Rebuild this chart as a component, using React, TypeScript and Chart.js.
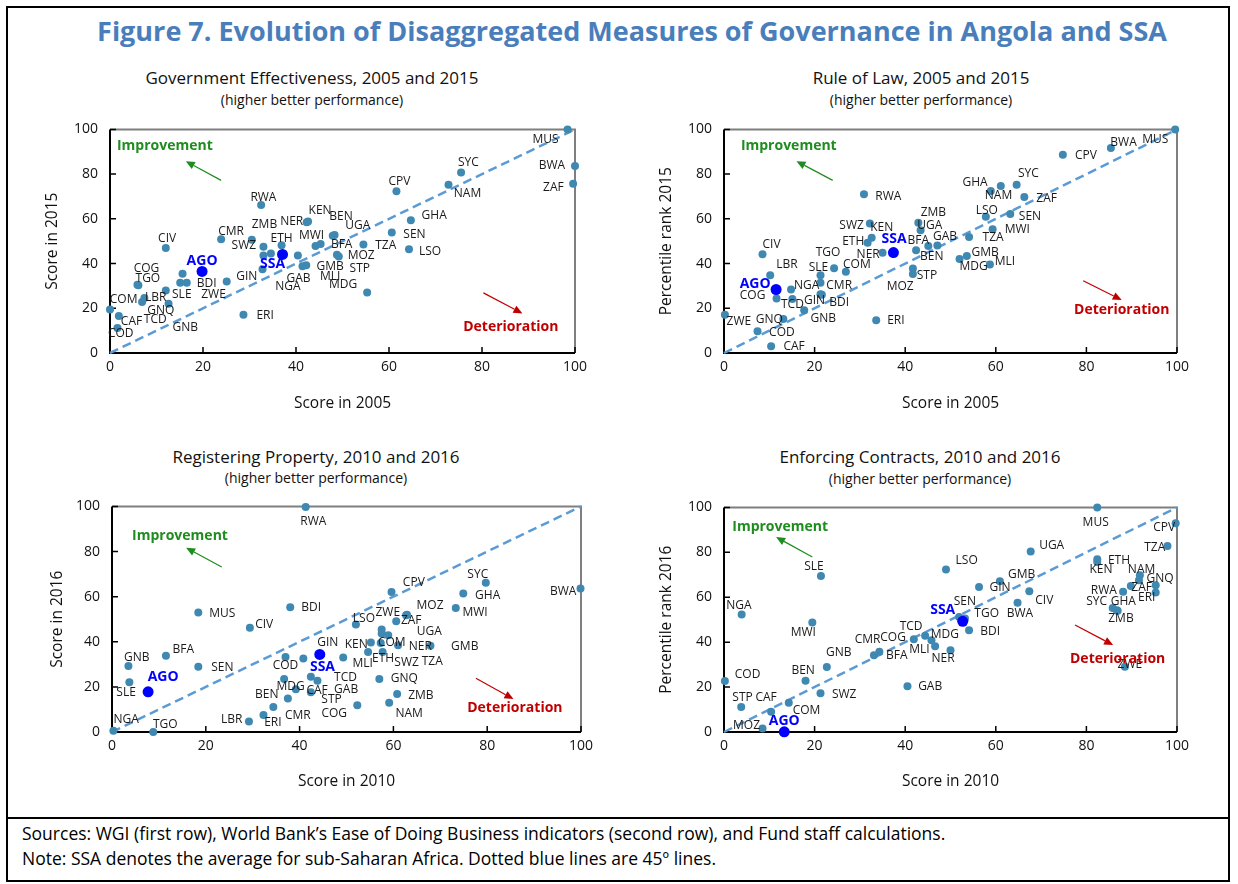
import React, { useEffect, useRef } from 'react';
import { Chart, registerables } from 'chart.js';

Chart.register(...registerables);

const FONT = '"Open Sans", "Noto Sans", Arial, sans-serif';
const DOT = '#3f88b2';
const HILITE = '#0000ff';
const LINE45 = '#5b9bd5';
const GREEN = '#1e8c1e';
const RED = '#c00000';

// ---------------- Government Effectiveness (2005 vs 2015) ----------------
const geCodes = ['COM','CAF','COD','COG','TGO','LBR','GNQ','TCD','GNB','SLE','BDI','ZWE','CIV','CMR','AGO','GIN','ERI','SWZ','RWA','ZMB','ETH','SSA','NGA','GAB','GMB','MLI','NER','KEN','MWI','BFA','BEN','UGA','MOZ','STP','TZA','MDG','SEN','LSO','GHA','CPV','NAM','SYC','MUS','BWA','ZAF','',''];
const geScore2005 = [0,1.9,1.6,5.9,6.1,7.4,6.9,12.6,15.6,12.0,16.5,15.1,12.0,23.9,19.8,25.1,28.7,30.5,32.5,33.0,36.9,37.1,32.8,41.4,42.2,40.4,42.3,42.6,44.2,45.3,47.9,48.3,48.8,49.2,54.5,55.3,60.6,64.3,64.7,61.6,72.8,75.5,98.4,100,99.6,33.0,34.6];
const geScore2015 = [19.5,16.5,11.2,30.5,30.3,24.6,22.8,22.0,35.4,28.0,31.4,31.4,47.0,50.9,36.5,32.0,17.1,50.6,66.2,47.5,48.2,44.1,37.4,38.8,39.3,43.6,58.5,58.8,47.9,48.7,52.4,52.8,43.9,43.2,48.5,27.1,53.9,46.4,59.4,72.3,75.3,80.7,100,83.6,75.7,43.6,44.5];
const geLabelOffsets = [[13.6,-10],[12.7,5.3],[3.3,5.7],[9,-16.7],[9.5,-6.7],[11.4,0],[18.7,8.3],[-13.3,15.6],[2.7,54],[16,4],[20,1],[33.3,11.6],[1.3,-9.4],[10,-7.3],[0,-10],[20,-4.6],[21.7,1.3],[-8,5.3],[2.3,-7],[1,-22.7],[0,-7],[-10,9.7],[25.4,17.4],[-4,12.7],[24,1],[32.3,20.7],[-15,-0.3],[12,-11],[-4,-10],[21,0],[8.3,-19.7],[23.3,-9],[24.3,0.3],[21,12.5],[22.3,0.7],[-24,-8],[22.7,1.7],[21,2],[23.3,-5],[3,-9.3],[19,9],[7.3,-9.7],[-22,10],[-23,0],[-19.7,4.3],[0,0],[0,0]];

// ---------------- Rule of Law (2005 vs 2015) ----------------
const rlCodes = ['ZWE','GNQ','COD','CAF','GNB','ERI','AGO','COG','CIV','LBR','NGA','TCD','SLE','CMR','GIN','BDI','TGO','COM','ETH','KEN','SWZ','NER','SSA','RWA','MOZ','STP','BEN','BFA','GAB','ZMB','UGA','MUS','BWA','CPV','SYC','GHA','NAM','ZAF','LSO','SEN','MWI','TZA','GMB','MDG','MLI'];
const rlRank2005 = [0.2,13.1,7.4,10.4,17.7,33.6,11.5,11.6,8.5,10.2,14.8,15.1,21.3,21.3,21.3,21.6,24.3,26.9,31.7,32.6,32.2,35.0,37.4,30.9,41.7,41.7,42.4,45.1,47.1,42.9,43.4,99.6,85.4,74.8,64.6,61.1,58.9,66.3,57.8,63.2,59.3,54.1,53.6,52.0,58.7];
const rlRank2015 = [17.1,15.2,9.7,3.0,19.1,14.6,28.4,24.4,44.2,34.8,28.4,24.1,34.8,31.4,26.3,26.0,37.9,36.3,49.3,51.5,57.9,44.8,44.9,71.0,35.3,37.8,46.0,47.8,48.1,58.3,54.9,100,91.7,88.7,75.3,74.7,72.5,69.8,60.9,62.2,55.4,51.9,43.4,42.0,39.6];
const rlLabelOffsets = [[14,7],[-14,1],[24.4,1],[23,0.4],[19,8.7],[19.7,0.4],[-21,-5.3],[-24,-2.6],[9,-10],[16.7,-11],[15.7,-3.6],[0,5],[-2,-7.7],[18.7,3],[-6,6],[17.4,7.5],[-6,-15.3],[11,-7.7],[-14.4,-0.7],[10,-10.4],[-18.3,1.7],[-14.4,1.6],[0.7,-14],[24.3,2],[-12.7,12.7],[14,7.4],[15.7,6],[-10,-5.3],[7.7,-8.6],[15,-10],[9.3,-5],[-20,10],[12.7,-5],[23,1.3],[11.7,-11],[-25.7,-3],[7.7,4.3],[22.3,1.7],[1,-6],[19.7,3],[24.7,0.3],[24,1],[18.3,-3.4],[14,7.7],[15,-2.6]];

// ---------------- Registering Property (2010 vs 2016) ----------------
const rpCodes = ['RWA','MUS','BDI','CIV','GNB','BFA','SEN','SLE','AGO','NGA','TGO','LBR','ERI','BEN','CMR','MDG','CAF','TCD','GAB','STP','COD','GIN','SSA','MLI','KEN','ETH','SWZ','COM','NER','GMB','UGA','TZA','','LSO','ZWE','MOZ','ZAF','CPV','SYC','GHA','MWI','BWA','GNQ','ZMB','NAM','COG'];
const rpScore2010 = [41.3,18.4,38.0,29.4,3.5,11.5,18.4,3.7,7.7,0.3,8.8,29.2,32.3,34.4,37.5,36.7,39.2,42.4,43.8,42.4,37.0,40.8,44.3,49.3,55.2,54.6,57.7,57.3,61.0,67.9,58.9,57.5,57.5,52.0,62.7,62.9,60.6,59.6,79.7,74.9,73.3,99.9,57.0,60.8,59.1,52.3];
const rpScore2016 = [99.7,53.0,55.3,46.2,29.2,33.8,28.9,22.0,17.8,0.6,0,4.6,7.5,11.1,14.9,23.5,18.9,24.5,22.7,17.6,33.2,32.6,34.4,33.0,39.7,35.5,35.5,39.5,38.5,38.2,42.9,43.7,45.4,47.7,51.8,52.0,49.1,62.1,66.2,61.4,55.0,63.6,23.5,16.8,13.0,11.9];
const rpLabelOffsets = [[7.6,15],[24,1.4],[21,0.7],[14.3,-2.7],[8.4,-8.3],[17.3,-5.7],[24,1],[-3.3,10],[15,-14.4],[12.7,-11.4],[12,-7.7],[-17.3,-2.4],[9.4,7.7],[-6.6,-12],[10,17.4],[6.4,7.7],[21.3,1.4],[34.7,0.6],[28.7,8.3],[20.7,7.7],[0,8.7],[24.4,-15.6],[2.7,12.4],[19.4,6],[-14.7,1.7],[15,6.6],[24,11],[11,0],[22.3,1],[34.3,1],[41,-3.3],[50.6,28.4],[0,0],[8,-6],[-18.3,-2.3],[23,-9.3],[15,-1],[22.3,-9],[-8,-8.3],[24.4,1.7],[19.3,5],[-17.4,2.7],[25,0],[23.7,1],[20,10.6],[-23,8.3]];

// ---------------- Enforcing Contracts (2010 vs 2016) ----------------
const ecCodes = ['SLE','NGA','MWI','COD','BEN','GNB','SWZ','STP','CAF','COM','MOZ','AGO','GAB','CMR','BFA','COG','TCD','MDG','MLI','NER','SSA','SEN','TGO','BDI','LSO','GIN','GMB','CIV','BWA','UGA','MUS','ETH','KEN','NAM','ZAF','','GNQ','ERI','RWA','SYC','GHA','ZMB','ZWE','CPV','TZA'];
const ecRank2010 = [21.4,3.9,19.5,0.2,18.0,22.7,21.3,3.8,10.4,14.3,8.5,13.3,40.5,33.1,34.3,41.9,44.4,45.8,46.6,50.0,52.7,51.9,53.2,54.1,49.0,56.3,60.9,67.4,64.8,67.7,82.4,82.4,82.4,91.8,91.6,89.8,95.3,95.3,88.1,85.8,86.7,86.9,88.5,99.7,97.9];
const ecRank2016 = [69.5,52.3,48.8,22.7,22.8,28.9,17.3,11.1,9.0,13.0,1.6,0.1,20.4,34.2,35.7,41.3,42.8,40.8,38.2,36.4,49.3,51.2,50.5,45.3,72.4,64.6,67.1,62.7,57.6,80.4,99.9,76.9,75.7,69.8,67.6,65.0,65.3,62.1,62.4,55.2,54.2,54.0,29.0,92.9,82.8];
const ecLabelOffsets = [[-7,-9],[-2.7,-8.6],[-9,10],[22.7,-6],[-2.4,-10],[12,-14.7],[23.7,1],[1.3,-9.3],[-5,-14],[17.7,7.3],[-16,-3.3],[0,-10.7],[22.7,0.7],[-6.3,-16],[17.4,4],[-20.7,-1.3],[-14,-9.7],[13.3,-5.3],[-15.7,3],[-7.4,8.3],[-20,-11],[5.7,-15],[21.7,-5],[21,1],[20.7,-9],[21,0.6],[21.7,-7],[15,9],[2.3,11],[21,-6],[-1.6,15],[21.7,1],[3.7,7.3],[1.7,-6],[2.7,7.3],[0,0],[4.3,-6.7],[-9,5.4],[-19.3,-1],[-16,-6.7],[6.6,-9],[3.3,7.7],[5,-2.4],[-11.4,4.7],[-12.7,1.6]];

const axisTicks = [0, 20, 40, 60, 80, 100];

type Note = { text: string; color: string; at: [number, number]; from: [number, number]; to: [number, number] };

const notes = (imp: number[], det: number[]): Note[] => [
  { text: 'Improvement', color: GREEN, at: [imp[0], imp[1]], from: [imp[2], imp[3]], to: [imp[4], imp[5]] },
  { text: 'Deterioration', color: RED, at: [det[0], det[1]], from: [det[2], det[3]], to: [det[4], det[5]] },
];

const PANELS = [
  {
    title: 'Government Effectiveness, 2005 and 2015', tx: 312, ty: 77, sy: 100,
    area: { l: 110, t: 129, r: 575, b: 353 }, xTitle: 'Score in 2005', yTitle: 'Score in 2015', xPad: 12, yPad: 13,
    codes: geCodes, xs: geScore2005, ys: geScore2015, offsets: geLabelOffsets,
    notes: notes([11.8, 92.4, 23.9, 77.2, 16.3, 85.8], [86.2, 11.5, 80.3, 26.9, 88.7, 17.7]),
  },
  {
    title: 'Rule of Law, 2005 and 2015', tx: 921, ty: 77, sy: 100,
    area: { l: 724, t: 129, r: 1177, b: 353 }, xTitle: 'Score in 2005', yTitle: 'Percentile rank 2015', xPad: 12, yPad: 13,
    codes: rlCodes, xs: rlRank2005, ys: rlRank2015, offsets: rlLabelOffsets,
    notes: notes([14.3, 92.4, 24.0, 77.2, 16.0, 85.8], [87.8, 19.2, 79.3, 32.3, 87.8, 23.7]),
  },
  {
    title: 'Registering Property, 2010 and 2016', tx: 316, ty: 456, sy: 478,
    area: { l: 112, t: 506, r: 581, b: 732 }, xTitle: 'Score in 2010', yTitle: 'Score in 2016', xPad: 13, yPad: 16,
    codes: rpCodes, xs: rpScore2010, ys: rpScore2016, offsets: rpLabelOffsets,
    notes: notes([14.5, 86.9, 23.4, 73.1, 15.8, 81.7], [85.9, 10.8, 77.6, 23.8, 85.6, 14.6]),
  },
  {
    title: 'Enforcing Contracts, 2010 and 2016', tx: 920, ty: 456, sy: 479,
    area: { l: 724, t: 507, r: 1177, b: 732 }, xTitle: 'Score in 2010', yTitle: 'Percentile rank 2016', xPad: 13, yPad: 13,
    codes: ecCodes, xs: ecRank2010, ys: ecRank2016, offsets: ecLabelOffsets,
    notes: notes([12.4, 91.2, 19.5, 77.9, 11.5, 86.8], [86.9, 32.4, 77.5, 47.6, 85.9, 38.7]),
  },
];

const framePlugin = {
  id: 'frame',
  beforeDatasetsDraw(chart: any) {
    const { ctx, chartArea: a, scales } = chart;
    const x = scales.x, y = scales.y;
    ctx.save();
    ctx.lineWidth = 2;
    ctx.strokeStyle = '#7f7f7f';
    ctx.beginPath();
    ctx.moveTo(a.left, a.top);
    ctx.lineTo(a.right, a.top);
    ctx.lineTo(a.right, a.bottom);
    ctx.stroke();
    ctx.strokeStyle = '#000';
    ctx.beginPath();
    ctx.moveTo(a.left, a.top);
    ctx.lineTo(a.left, a.bottom);
    ctx.lineTo(a.right, a.bottom);
    ctx.stroke();
    ctx.lineWidth = 1.5;
    ctx.beginPath();
    y.ticks.forEach((t: any) => {
      const p = y.getPixelForValue(t.value);
      ctx.moveTo(a.left, p);
      ctx.lineTo(a.left + 6, p);
    });
    x.ticks.forEach((t: any) => {
      const p = x.getPixelForValue(t.value);
      ctx.moveTo(p, a.bottom);
      ctx.lineTo(p, a.bottom - 6);
    });
    ctx.stroke();
    ctx.restore();
  },
};

const labelPlugin = {
  id: 'pointLabels',
  afterDatasetsDraw(chart: any) {
    const ctx = chart.ctx;
    chart.data.datasets.forEach((ds: any, di: number) => {
      if (!ds.pointLabels) return;
      const meta = chart.getDatasetMeta(di);
      ctx.save();
      ctx.font = ds.labelFont;
      ctx.fillStyle = ds.labelColor;
      ctx.textAlign = 'center';
      ctx.textBaseline = 'middle';
      meta.data.forEach((el: any, i: number) => {
        const t = ds.pointLabels[i];
        if (!t) return;
        const [dx, dy] = ds.labelOffsets[i];
        ctx.fillText(t, el.x + dx, el.y + dy);
      });
      ctx.restore();
    });
  },
};

const notesPlugin = {
  id: 'notes',
  afterDatasetsDraw(chart: any, _args: any, opts: any) {
    const { ctx, scales } = chart;
    const px = (v: number) => scales.x.getPixelForValue(v);
    const py = (v: number) => scales.y.getPixelForValue(v);
    (opts.items || []).forEach((n: Note) => {
      ctx.save();
      ctx.fillStyle = n.color;
      ctx.strokeStyle = n.color;
      ctx.font = `bold 14px ${FONT}`;
      ctx.textAlign = 'center';
      ctx.textBaseline = 'middle';
      ctx.fillText(n.text, px(n.at[0]), py(n.at[1]));
      const x1 = px(n.from[0]), y1 = py(n.from[1]);
      const x2 = px(n.to[0]), y2 = py(n.to[1]);
      const ang = Math.atan2(y2 - y1, x2 - x1);
      const hl = 9, hw = 4;
      const bx = x2 - hl * Math.cos(ang), by = y2 - hl * Math.sin(ang);
      ctx.lineWidth = 1.2;
      ctx.beginPath();
      ctx.moveTo(x1, y1);
      ctx.lineTo(bx, by);
      ctx.stroke();
      ctx.beginPath();
      ctx.moveTo(x2, y2);
      ctx.lineTo(bx + hw * Math.sin(ang), by - hw * Math.cos(ang));
      ctx.lineTo(bx - hw * Math.sin(ang), by + hw * Math.cos(ang));
      ctx.closePath();
      ctx.fill();
      ctx.restore();
    });
  },
};

const PADL = 80, PADT = 20, PADR = 30, PADB = 72;

function Panel({ cfg }: { cfg: any }) {
  const ref = useRef<HTMLCanvasElement>(null);
  const { l, t, r, b } = cfg.area;
  const w = r - l + PADL + PADR;
  const h = b - t + PADT + PADB;

  useEffect(() => {
    if (!ref.current) return;
    const main: number[] = [];
    const hi: number[] = [];
    cfg.codes.forEach((c: string, i: number) => (c === 'AGO' || c === 'SSA' ? hi : main).push(i));
    const pts = (idx: number[]) => idx.map((i) => ({ x: cfg.xs[i], y: cfg.ys[i] }));
    const tickFont = { family: FONT, size: 14 };
    const titleFont = { family: FONT, size: 15.5 };
    const chart = new Chart(ref.current, {
      type: 'scatter',
      data: {
        datasets: [
          {
            label: 'Angola and SSA',
            data: pts(hi),
            pointRadius: 5.5,
            backgroundColor: HILITE,
            borderColor: HILITE,
            borderWidth: 0,
            clip: false,
            pointLabels: hi.map((i) => cfg.codes[i]),
            labelOffsets: hi.map((i) => cfg.offsets[i]),
            labelFont: `bold 14px ${FONT}`,
            labelColor: HILITE,
          } as any,
          {
            label: 'Countries',
            data: pts(main),
            pointRadius: 4,
            backgroundColor: DOT,
            borderColor: DOT,
            borderWidth: 0,
            clip: false,
            pointLabels: main.map((i) => cfg.codes[i]),
            labelOffsets: main.map((i) => cfg.offsets[i]),
            labelFont: `12px ${FONT}`,
            labelColor: '#1a1a1a',
          } as any,
          {
            label: '45 degree line',
            data: [{ x: 0, y: 0 }, { x: 100, y: 100 }],
            showLine: true,
            borderColor: LINE45,
            borderWidth: 2.5,
            borderDash: [9, 5],
            pointRadius: 0,
            clip: false,
          } as any,
        ],
      },
      options: {
        animation: false,
        responsive: false,
        devicePixelRatio: 1,
        layout: { padding: { left: 0, top: PADT, right: PADR, bottom: 0 } },
        plugins: {
          legend: { display: false },
          tooltip: { enabled: false },
          notes: { items: cfg.notes },
        } as any,
        scales: {
          x: {
            type: 'linear',
            min: 0,
            max: 100,
            afterBuildTicks: (s: any) => { s.ticks = axisTicks.map((v) => ({ value: v })); },
            ticks: { padding: 6, color: '#111', font: tickFont },
            grid: { display: false, drawTicks: false },
            border: { display: false },
            title: { display: true, text: cfg.xTitle, color: '#111', font: titleFont, padding: { top: 0, bottom: cfg.xPad } },
            afterFit: (s: any) => { s.height = PADB; },
          },
          y: {
            type: 'linear',
            min: 0,
            max: 100,
            afterBuildTicks: (s: any) => { s.ticks = axisTicks.map((v) => ({ value: v })); },
            ticks: { padding: 12, color: '#111', font: tickFont },
            grid: { display: false, drawTicks: false },
            border: { display: false },
            title: { display: true, text: cfg.yTitle, color: '#111', font: titleFont, padding: { top: cfg.yPad, bottom: 0 } },
            afterFit: (s: any) => { s.width = PADL; },
          },
        },
      } as any,
      plugins: [framePlugin, labelPlugin, notesPlugin],
    });
    return () => chart.destroy();
  }, []);

  return (
    <canvas
      ref={ref}
      width={w}
      height={h}
      style={{ position: 'absolute', left: l - PADL, top: t - PADT, width: w, height: h }}
    />
  );
}

const center = (x: number, y: number): React.CSSProperties => ({
  position: 'absolute',
  left: x,
  top: y,
  transform: 'translate(-50%, -50%)',
  whiteSpace: 'nowrap',
  lineHeight: 1,
});

export default function App() {
  return (
    <div style={{ position: 'absolute', left: 0, top: 0, width: 1238, height: 884, background: '#fff', fontFamily: FONT, overflow: 'hidden' }}>
      <div style={{ position: 'absolute', left: 6, top: 6, width: 1224, height: 876, border: '2px solid #000', boxSizing: 'border-box' }} />
      <div style={{ position: 'absolute', left: 6, top: 817, width: 1224, height: 2, background: '#000' }} />
      <div style={{ ...center(632, 30), fontSize: 27, fontWeight: 700, color: '#4a7ebb' }}>
        Figure 7. Evolution of Disaggregated Measures of Governance in Angola and SSA
      </div>
      {PANELS.map((p, i) => (
        <React.Fragment key={i}>
          <div style={{ ...center(p.tx, p.ty), fontSize: 17, color: '#111' }}>{p.title}</div>
          <div style={{ ...center(p.tx, p.sy), fontSize: 14, color: '#111' }}>(higher better performance)</div>
          <Panel cfg={p} />
        </React.Fragment>
      ))}
      <div style={{ position: 'absolute', left: 22, top: 823, fontSize: 17.5, color: '#000', whiteSpace: 'nowrap', lineHeight: '20px' }}>
        Sources: WGI (first row), World Bank’s Ease of Doing Business indicators (second row), and Fund staff calculations.
      </div>
      <div style={{ position: 'absolute', left: 22, top: 848, fontSize: 17.5, color: '#000', whiteSpace: 'nowrap', lineHeight: '20px' }}>
        Note: SSA denotes the average for sub-Saharan Africa. Dotted blue lines are 45º lines.
      </div>
    </div>
  );
}
